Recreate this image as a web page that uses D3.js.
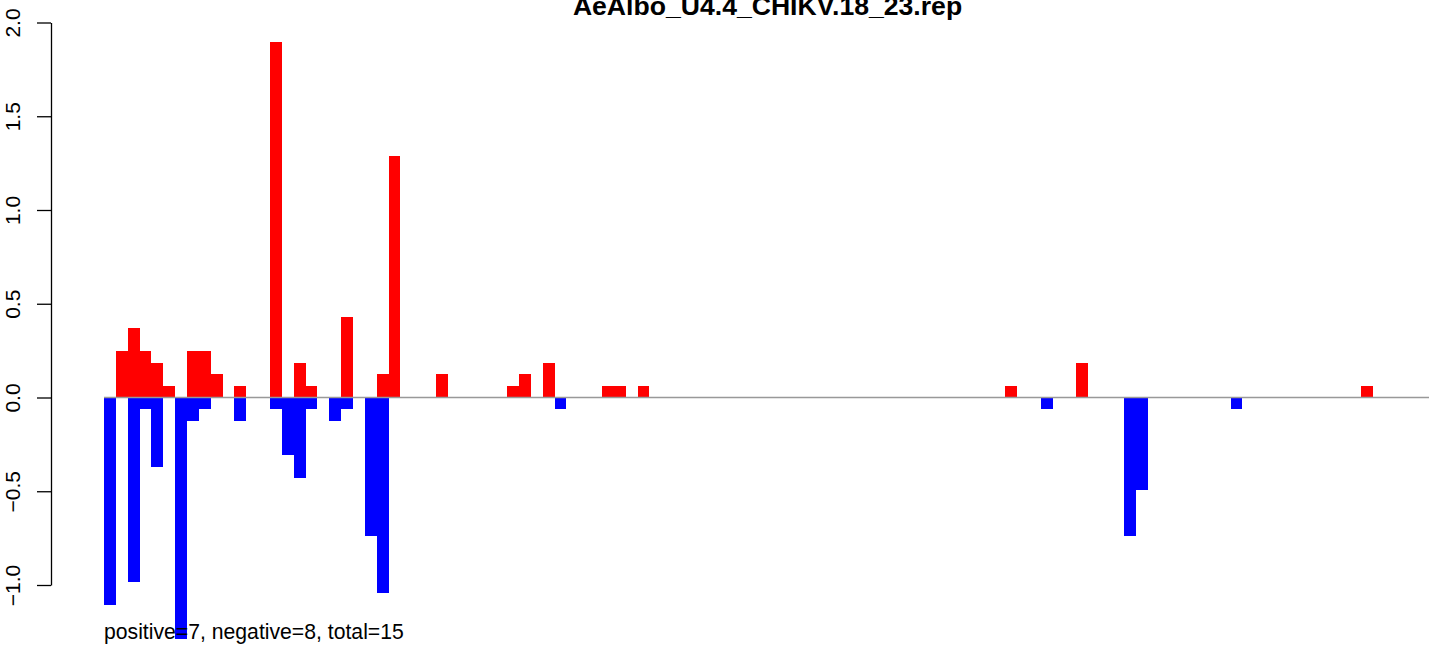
<!DOCTYPE html>
<html>
<head>
<meta charset="utf-8">
<script src="https://cdn.jsdelivr.net/npm/d3@7"></script>
<style>
  html, body { margin: 0; padding: 0; background: #fff; }
  svg { display: block; }
  text { font-family: "Liberation Sans", Arial, Helvetica, sans-serif; }
</style>
</head>
<body>
<svg id="chart" width="1429" height="645"></svg>
<script>
// ---- data ----
const chartTitle = "AeAlbo_U4.4_CHIKV.18_23.rep";
const footnote = "positive=7, negative=8, total=15";
const nBins = 112;
const posBins   = [1, 2, 3, 4, 5, 7, 8, 9, 11, 14, 16, 17, 20, 23, 24, 28, 34, 35, 37, 42, 43, 45, 76, 82, 106];
const posValues = [0.246, 0.369, 0.246, 0.185, 0.062, 0.246, 0.246, 0.123, 0.062, 1.896, 0.185, 0.062, 0.431, 0.123, 1.288, 0.123, 0.062, 0.123, 0.185, 0.062, 0.062, 0.062, 0.062, 0.185, 0.062];
const negBins   = [0, 2, 3, 4, 6, 7, 8, 11, 14, 15, 16, 17, 19, 20, 22, 23, 38, 79, 86, 87, 95];
const negValues = [-1.107, -0.984, -0.062, -0.369, -1.290, -0.123, -0.062, -0.123, -0.062, -0.308, -0.431, -0.062, -0.123, -0.062, -0.738, -1.044, -0.062, -0.062, -0.738, -0.492, -0.062];
const yTicks = [-1.0, -0.5, 0.0, 0.5, 1.0, 1.5, 2.0];

// ---- layout ----
const svg = d3.select("#chart");
const barW = 11.858;
const x = d3.scaleLinear().domain([0, nBins]).range([104, 104 + nBins * barW]);
const y = d3.scaleLinear().domain([-1, 2]).range([585, 22.5]);

const pos = posBins.map((b, i) => ({ b, v: posValues[i] }));
const neg = negBins.map((b, i) => ({ b, v: negValues[i] }));

// bars
svg.append("g").selectAll("rect").data(pos).join("rect")
  .attr("x", d => x(d.b))
  .attr("width", d => x(d.b + 1) - x(d.b))
  .attr("y", d => y(d.v))
  .attr("height", d => y(0) - y(d.v))
  .attr("fill", "#ff0000")
  .attr("shape-rendering", "crispEdges");

svg.append("g").selectAll("rect").data(neg).join("rect")
  .attr("x", d => x(d.b))
  .attr("width", d => x(d.b + 1) - x(d.b))
  .attr("y", y(0))
  .attr("height", d => y(d.v) - y(0))
  .attr("fill", "#0000ff")
  .attr("shape-rendering", "crispEdges");

// baseline
svg.append("line")
  .attr("x1", x(0)).attr("x2", x(nBins))
  .attr("y1", y(0)).attr("y2", y(0))
  .attr("stroke", "#999999").attr("stroke-width", 1.5);

// y axis
const axis = svg.append("g")
  .attr("transform", "translate(51,0)")
  .call(d3.axisLeft(y).tickValues(yTicks).tickFormat(d3.format(".1f")).tickSize(14).tickSizeOuter(0));
axis.select(".domain").attr("stroke", "#000").attr("stroke-width", 1.3);
axis.selectAll(".tick line").attr("stroke", "#000").attr("stroke-width", 1.3);
axis.selectAll(".tick text")
  .attr("transform", "rotate(-90)")
  .attr("x", 0).attr("y", -31).attr("dy", null)
  .attr("text-anchor", "middle")
  .attr("fill", "#000")
  .style("font-size", "21px")
  .style("font-family", "'Liberation Sans', Arial, sans-serif");

// title
svg.append("text")
  .attr("x", 767.5).attr("y", 15)
  .attr("text-anchor", "middle")
  .attr("font-weight", "bold")
  .style("font-size", "26.6px")
  .text(chartTitle);

// footnote
svg.append("text")
  .attr("x", 104).attr("y", 639)
  .style("font-size", "21.2px")
  .text(footnote);
</script>
</body>
</html>
